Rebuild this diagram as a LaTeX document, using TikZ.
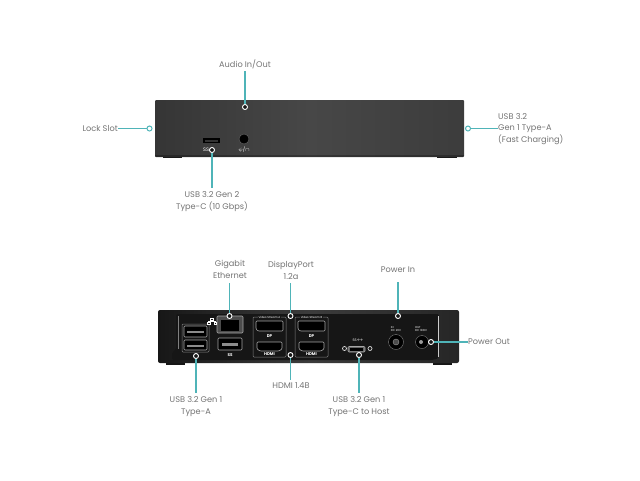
\documentclass[tikz,border=0pt]{standalone}
\usepackage{fontspec}
\setmainfont{Poppins}
\usepackage{xcolor}
\usetikzlibrary{arrows.meta,positioning,calc}
\definecolor{leadteal}{HTML}{4FB4B8}
\definecolor{labelgray}{HTML}{737373}
\definecolor{dockgray}{HTML}{474747}
\definecolor{dockblack}{HTML}{262626}
\definecolor{panelblack}{HTML}{161616}

\begin{document}
\begin{tikzpicture}[x=1pt, y=-1pt,
  lbl/.style={font=\fontsize{8.2}{11.4}\selectfont, text=labelgray, align=center, inner sep=0pt},
  lead/.style={leadteal, line width=1.1pt},
  spot/.style={circle, draw=white, fill=panelblack, line width=0.9pt, minimum size=5pt, inner sep=0pt},
  spotout/.style={circle, draw=leadteal, fill=white, line width=1pt, minimum size=5pt, inner sep=0pt},
  port/.style={draw=white!65!black, fill=black, line width=0.6pt, rounded corners=1pt},
  frameline/.style={draw=white!50!black, line width=0.5pt, rounded corners=1pt},
  tiny/.style={font=\fontsize{2.8}{3.2}\selectfont, text=white, align=center, inner sep=0pt}
]
  \useasboundingbox (0,0) rectangle (640,480);

  % top view
  \fill[panelblack] (163,155) rectangle (182,158);
  \fill[panelblack] (437,155) rectangle (457,158);
  \shade[left color=dockgray!75!black, right color=dockgray!85!black, middle color=dockgray, rounded corners=1pt] (155,100) rectangle (464,157);
  \fill[black, opacity=0.25] (155,155) rectangle (464,157);
  \fill[black] (203,138) rectangle (220,143);
  \fill[black!80] (205,139.5) rectangle (218,141.5);
  \node[circle, fill=black, draw=black!60, minimum size=10pt, inner sep=0pt] (jack) at (244,139) {};
  \node[tiny, font=\fontsize{5}{5}\selectfont] (usbcicon) at (206,150) {SS};
  \node[tiny, font=\fontsize{5}{5}\selectfont] (jackicon) at (244,149.5) {$\psi$/$\cap$};

  \node[lbl] (audiolbl) at (245,64) {Audio In/Out};
  \node[lbl, anchor=east] (locklbl) at (118,128.5) {Lock Slot};
  \node[lbl] (typeclbl) at (212,201.5) {USB 3.2 Gen 2\\Type-C (10 Gbps)};
  \node[lbl, align=left, anchor=west] (fastlbl) at (498,129) {USB 3.2\\Gen 1 Type-A\\(Fast Charging)};

  \node[spot] (audio) at (245,107) {};
  \node[spotout] (lock) at (149.5,128.5) {};
  \node[spot] (typec) at (212,150) {};
  \node[spotout] (fast) at (468,128.5) {};

  \coordinate (audioend) at (245,71);
  \coordinate (typecend) at (212,188);
  \draw[lead] (audioend) -- (audio);
  \draw[lead] (locklbl.east) -- (lock);
  \draw[lead] (typec) -- (typecend);
  \draw[lead] (fast) -- (fast -| fastlbl.west);

  % back view
  \fill[panelblack] (166,361) rectangle (185,365);
  \fill[panelblack] (433,361) rectangle (452,365);
  \shade[left color=dockblack!60!black, right color=dockblack, middle color=dockblack!90!white, rounded corners=2pt] (158,310) rectangle (459,363);
  \fill[panelblack, rounded corners=2pt] (176,314) -- (439,314) -- (439,358) -- (433,360) -- (172,360) -- (172,352) -- (176,350) -- cycle;
  \fill[white!80!black] (437.5,316) rectangle (439,357);
  \draw[white!50!black, line width=0.6pt] (178,316) -- (178,349);

  \draw[frameline] (182,324) rectangle (209,352);
  \draw[port] (184,326) rectangle (207,337);
  \fill[white!55!black] (187,331) rectangle (204,333);
  \draw[port] (184,340) rectangle (207,350);
  \fill[white!55!black] (187,345) rectangle (204,347);

  \draw[port, fill=black!70] (217,316) rectangle (243,333);
  \fill[black] (221,320) rectangle (239,331);
  % network mark
  \draw[white, line width=0.5pt] (210.5,318) rectangle (213.5,320) (207.5,322) rectangle (210,324) (214,322) rectangle (216.5,324)
    (212,320) -- (212,321) (208.7,322) -- (208.7,321) -- (215.2,321) -- (215.2,322);
  \draw[port] (218,338) rectangle (242,350);
  \fill[white!55!black] (222,343) rectangle (238,345.5);
  \node[tiny, font=\fontsize{4}{4}\selectfont\bfseries] (usbthree) at (230,355) {SS};

  \foreach \bx/\bn in {253/A, 295/B} {
    \draw[frameline] (\bx,317) rectangle ($(\bx,357)+(33,0)$);
    \node[tiny, fill=panelblack, inner xsep=1pt] at ($(\bx,317.5)+(16.5,0)$) {Video Stream \bn};
    \draw[port] ($(\bx,321)+(3,0)$) -- ($(\bx,321)+(30,0)$) -- ($(\bx,331)+(30,0)$) -- ($(\bx,331)+(5,0)$) -- ($(\bx,329)+(3,0)$) -- cycle;
    \node[tiny, font=\fontsize{4}{4}\selectfont\bfseries] at ($(\bx,336)+(16.5,0)$) {DP};
    \draw[port] ($(\bx,342)+(4,0)$) -- ($(\bx,342)+(29,0)$) -- ($(\bx,349)+(29,0)$) -- ($(\bx,351)+(26,0)$) -- ($(\bx,351)+(7,0)$) -- ($(\bx,349)+(4,0)$) -- cycle;
    \node[tiny, font=\fontsize{4}{4}\selectfont\bfseries] at ($(\bx,354)+(16.5,0)$) {HDMI};
  }

  \draw[port, fill=black!60] (348,346.5) rectangle (365,352);
  \fill[black] (350,348) rectangle (363,350.5);
  \node[tiny, font=\fontsize{3.5}{4}\selectfont] (hosticon) at (358,340.5) {SS$\leftrightarrow$};
  \node[circle, draw=white!85!black, fill=panelblack, line width=0.7pt, minimum size=4pt, inner sep=0pt] (screwl) at (344.5,348.5) {};
  \node[circle, draw=white!85!black, fill=panelblack, line width=0.7pt, minimum size=4pt, inner sep=0pt] (screwr) at (370,348.5) {};

  \node[tiny, align=left] (intext) at (396,329) {IN\\DC 20V};
  \node[tiny, align=left] (outtext) at (421,329) {OUT\\DC 19.8V};
  \node[circle, fill=black, draw=black!50, minimum size=15pt, inner sep=0pt] (barrelin) at (396,342) {};
  \node[circle, draw=black!40, fill=black!70, minimum size=6pt, inner sep=0pt] at (396,342) {};
  \node[circle, fill=black, draw=black!50, minimum size=13pt, inner sep=0pt] (barrelout) at (422,342) {};
  \node[circle, fill=white!60!black, minimum size=4pt, inner sep=0pt] at (421,342) {};

  \node[lbl] (gigabitlbl) at (230,269.5) {Gigabit\\Ethernet};
  \node[lbl] (dplbl) at (291,270.5) {DisplayPort\\1.2a};
  \node[lbl] (powerinlbl) at (398,270) {Power In};
  \node[lbl, anchor=west] (poweroutlbl) at (468,342) {Power Out};
  \node[lbl] (hdmilbl) at (291,386) {HDMI 1.4B};
  \node[lbl] (typealbl) at (196,406.5) {USB 3.2 Gen 1\\Type-A};
  \node[lbl] (hostlbl) at (359,406.5) {USB 3.2 Gen 1\\Type-C to Host};

  \node[spot] (gigabit) at (229.5,316) {};
  \node[spot] (dp) at (290.5,316) {};
  \node[spot] (powerin) at (398,316) {};
  \node[spot] (powerout) at (431,342) {};
  \node[spot] (hdmi) at (290.5,355) {};
  \node[spot] (typea) at (196,356) {};
  \node[spot] (host) at (359,355) {};

  \coordinate (gigabitend) at (229.5,283);
  \coordinate (dpend) at (290.5,283);
  \coordinate (powerinend) at (398,282);
  \coordinate (hdmiend) at (290.5,380);
  \coordinate (typeaend) at (196,393);
  \coordinate (hostend) at (359,393);

  \draw[lead] (gigabitend) -- (gigabit);
  \draw[lead] (dpend) -- (dp);
  \draw[lead] (powerinend) -- (powerin);
  \draw[lead] (powerout) -- (poweroutlbl.west);
  \draw[lead] (hdmi) -- (hdmiend);
  \draw[lead] (typea) -- (typeaend);
  \draw[lead] (host) -- (hostend);
\end{tikzpicture}
\end{document}
